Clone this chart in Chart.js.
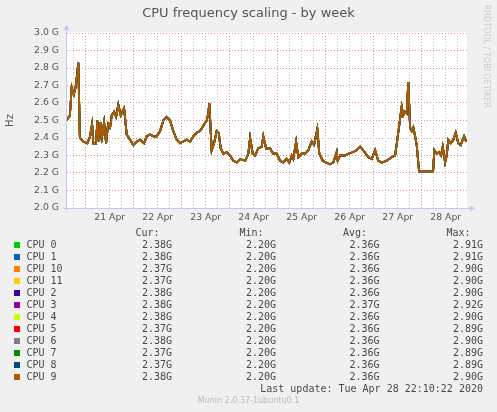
<!DOCTYPE html>
<html>
<head>
<meta charset="utf-8">
<script src="https://cdn.jsdelivr.net/npm/chart.js@4"></script>
<style>
  html, body { margin: 0; padding: 0; background: #f0f0f0; }
  #wrap { position: relative; width: 497px; height: 412px; background: #f0f0f0; overflow: hidden; }
  #myChart { position: absolute; left: 0; top: 0; }
  .t { position: absolute; white-space: pre; color: #555; }
  .title { font: 13px "DejaVu Sans"; left: 0; width: 497px; text-align: center; top: 5px; }
  .rrd { font: 8px "DejaVu Sans"; color: #ccc; left: 482px; top: 5px; writing-mode: vertical-rl; }
  .mono { font: 10px "DejaVu Sans Mono"; line-height: 12px; color: #484848; }
  .sw { position: absolute; width: 6px; height: 6px; }
  .munin { font: 8px "DejaVu Sans"; color: #bbb; left: 0; width: 497px; text-align: center; top: 396px; }
</style>
</head>
<body>
<div id="wrap">
  <canvas id="myChart" width="497" height="412"></canvas>
  <div class="t title">CPU frequency scaling - by week</div>
  <div class="t rrd">RRDTOOL / TOBI OETIKER</div>
  <div id="legend"></div>
  <div class="t munin">Munin 2.0.37-1ubuntu0.1</div>
</div>
<script>
// hours since 21 Apr 00:00
const hours = [-9.5, -7.9, -7.0, -5.9, -4.9, -3.7, -2.9, -1.2, 0.8, 2.2,
    3.2, 3.8, 5.2, 5.8, 6.7, 7.5, 8.2, 9.2, 10.2, 11.2,
    12.2, 13.0, 14.2, 15.2, 16.3, 17.5, 19.2, 20.5, 22.2, 23.8,
    25.5, 27.2, 29.2, 30.5, 32.2, 33.8, 35.5, 37.2, 38.8, 40.5,
    42.2, 43.8, 45.5, 47.2, 48.8, 50.5, 52.2, 53.8, 55.5, 57.2,
    58.8, 60.5, 61.3, 61.8, 63.0, 64.2, 65.5, 66.5, 67.5, 68.8,
    70.5, 72.2, 73.8, 75.5, 77.2, 79.7, 81.3, 82.2, 83.5, 84.7,
    86.3, 88.0, 88.8, 90.2, 92.2, 93.8, 95.5, 97.2, 98.8, 100.5,
    101.8, 103.0, 103.8, 105.2, 106.3, 108.0, 109.7, 111.3, 113.0, 114.2,
    115.8, 116.8, 118.5, 120.2, 122.2, 123.8, 125.5, 126.0, 127.2, 129.7,
    131.3, 133.8, 135.5, 137.2, 138.8, 141.3, 143.0, 144.7, 146.3, 148.0,
    150.5, 153.0, 154.7, 155.8, 157.2, 158.0, 158.8, 159.7, 160.5, 161.3,
    162.2, 163.0, 163.8, 164.7, 165.5, 166.7, 173.7, 174.3, 175.5, 176.7,
    177.7, 178.5, 179.7, 180.5, 181.3, 182.5, 183.8, 185.0, 186.3, 187.5,
    188.5, 189.2, 190.2];

// frequency in GHz
const freqGHz = [2.50, 2.53, 2.69, 2.65, 2.70, 2.83, 2.40, 2.38, 2.37, 2.41,
    2.48, 2.37, 2.37, 2.50, 2.38, 2.49, 2.41, 2.49, 2.37, 2.48,
    2.46, 2.53, 2.55, 2.52, 2.59, 2.53, 2.57, 2.42, 2.39, 2.36,
    2.38, 2.39, 2.37, 2.41, 2.42, 2.41, 2.41, 2.44, 2.50, 2.52,
    2.50, 2.44, 2.39, 2.37, 2.38, 2.39, 2.38, 2.41, 2.43, 2.44,
    2.47, 2.50, 2.54, 2.60, 2.33, 2.37, 2.44, 2.43, 2.34, 2.31,
    2.32, 2.30, 2.27, 2.26, 2.28, 2.27, 2.31, 2.40, 2.31, 2.30,
    2.34, 2.35, 2.41, 2.34, 2.34, 2.31, 2.31, 2.27, 2.26, 2.28,
    2.26, 2.30, 2.28, 2.38, 2.29, 2.31, 2.31, 2.33, 2.38, 2.36,
    2.45, 2.31, 2.27, 2.26, 2.25, 2.26, 2.32, 2.27, 2.30, 2.30,
    2.31, 2.32, 2.33, 2.35, 2.33, 2.29, 2.28, 2.33, 2.27, 2.26,
    2.27, 2.29, 2.30, 2.39, 2.51, 2.58, 2.53, 2.55, 2.54, 2.72,
    2.46, 2.44, 2.46, 2.41, 2.36, 2.21, 2.21, 2.33, 2.31, 2.32,
    2.30, 2.35, 2.26, 2.30, 2.39, 2.37, 2.39, 2.43, 2.37, 2.36,
    2.39, 2.41, 2.38];

const dayLabels = ['21 Apr', '22 Apr', '23 Apr', '24 Apr', '25 Apr', '26 Apr', '27 Apr', '28 Apr'];

const cpuNames = ['CPU 0', 'CPU 1', 'CPU 10', 'CPU 11', 'CPU 2', 'CPU 3', 'CPU 4', 'CPU 5', 'CPU 6', 'CPU 7', 'CPU 8', 'CPU 9'];
const cpuColors = ['#00cc00', '#0066b3', '#ff8000', '#ffcc00', '#330099', '#990099', '#ccff00', '#ff0000', '#808080', '#008f00', '#00487d', '#b35a00'];
const curVals = ['2.38G', '2.38G', '2.37G', '2.37G', '2.38G', '2.38G', '2.38G', '2.37G', '2.38G', '2.37G', '2.37G', '2.38G'];
const minVals = ['2.20G', '2.20G', '2.20G', '2.20G', '2.20G', '2.20G', '2.20G', '2.20G', '2.20G', '2.20G', '2.20G', '2.20G'];
const avgVals = ['2.36G', '2.36G', '2.36G', '2.36G', '2.36G', '2.37G', '2.36G', '2.36G', '2.36G', '2.36G', '2.36G', '2.36G'];
const maxVals = ['2.91G', '2.91G', '2.90G', '2.90G', '2.90G', '2.92G', '2.90G', '2.89G', '2.90G', '2.89G', '2.89G', '2.90G'];
const lastUpdate = 'Last update: Tue Apr 28 22:10:22 2020';

const points = hours.map((h, i) => ({ x: h, y: freqGHz[i] }));

// white plot area + blue axis arrows like rrdtool
const rrdFrame = {
    id: 'rrdFrame',
    beforeDraw(chart) {
        const { ctx, chartArea: a } = chart;
        ctx.save();
        ctx.fillStyle = '#ffffff';
        ctx.fillRect(a.left, a.top - 1, a.right - a.left, a.bottom - a.top + 1);
        ctx.restore();
    },
    afterDraw(chart) {
        const { ctx, chartArea: a } = chart;
        ctx.save();
        ctx.strokeStyle = '#c6c6f4';
        ctx.fillStyle = '#c6c6f4';
        ctx.lineWidth = 1;
        ctx.beginPath();
        ctx.moveTo(a.left - 3, a.bottom + 0.5);
        ctx.lineTo(a.right + 4, a.bottom + 0.5);
        ctx.moveTo(a.left - 0.5, a.bottom + 3);
        ctx.lineTo(a.left - 0.5, a.top - 4);
        ctx.stroke();
        ctx.beginPath();
        ctx.moveTo(a.right + 8, a.bottom + 0.5);
        ctx.lineTo(a.right + 3, a.bottom - 2.5);
        ctx.lineTo(a.right + 3, a.bottom + 3.5);
        ctx.closePath();
        ctx.moveTo(a.left - 0.5, a.top - 8);
        ctx.lineTo(a.left - 3.5, a.top - 3);
        ctx.lineTo(a.left + 2.5, a.top - 3);
        ctx.closePath();
        ctx.fill();
        ctx.restore();
    }
};

const majorGrid = '#f08c8c';
const minorGrid = '#c4c4c4';

const config = {
    type: 'line',
    data: {
        datasets: cpuNames.map((name, i) => ({
            label: name,
            data: points,
            borderColor: cpuColors[i],
            backgroundColor: cpuColors[i],
            borderWidth: 1.8,
            pointRadius: 0,
            tension: 0,
            order: cpuNames.length - 1 - i,
        }))
    },
    options: {
        responsive: false,
        devicePixelRatio: 1,
        animation: false,
        layout: {
            padding: { left: 0, top: 33, right: 30, bottom: 184 }
        },
        plugins: {
            legend: { display: false },
            tooltip: { enabled: false },
            title: { display: false }
        },
        scales: {
            x: {
                type: 'linear',
                min: -9.35,
                max: 190.65,
                afterFit: (scale) => { scale.height = 20; },
                border: { display: false, dash: [1, 2] },
                grid: {
                    drawTicks: false,
                    lineWidth: 1,
                    color: (c) => (c.tick && ((c.tick.value % 24) + 24) % 24 === 0) ? majorGrid : minorGrid,
                },
                ticks: {
                    stepSize: 6,
                    includeBounds: false,
                    autoSkip: false,
                    maxRotation: 0,
                    padding: 4,
                    color: '#555',
                    font: { family: 'DejaVu Sans', size: 9.3 },
                    callback: function (value) {
                        if (((value % 24) + 24) % 24 === 12) {
                            return dayLabels[Math.floor(value / 24)] || '';
                        }
                        return '';
                    }
                }
            },
            y: {
                type: 'linear',
                min: 2.0,
                max: 3.0,
                afterFit: (scale) => { scale.width = 67; },
                border: { display: false, dash: [1, 2] },
                grid: {
                    drawTicks: false,
                    lineWidth: 1,
                    color: majorGrid,
                },
                ticks: {
                    stepSize: 0.1,
                    padding: 8,
                    color: '#555',
                    font: { family: 'DejaVu Sans', size: 9.3 },
                    callback: function (value) {
                        return value.toFixed(1) + ' G';
                    }
                },
                title: {
                    display: true,
                    text: 'Hz',
                    color: '#555',
                    font: { family: 'DejaVu Sans', size: 10 },
                    padding: { top: 4, bottom: 0 }
                }
            }
        }
    },
    plugins: [rrdFrame]
};

window.myChart = new Chart(document.getElementById('myChart'), config);

// munin style legend table
function addText(text, cls, left, right, top) {
    const d = document.createElement('div');
    d.className = 't ' + cls;
    d.textContent = text;
    if (left !== null) d.style.left = left + 'px';
    if (right !== null) { d.style.right = (497 - right) + 'px'; d.style.textAlign = 'right'; }
    d.style.top = top + 'px';
    document.getElementById('legend').appendChild(d);
}

const headTop = 227;
addText('Cur:', 'mono', null, 159.5, headTop);
addText('Min:', 'mono', null, 263.5, headTop);
addText('Avg:', 'mono', null, 367, headTop);
addText('Max:', 'mono', null, 470.5, headTop);

cpuNames.forEach((name, i) => {
    const top = 238.5 + i * 12;
    const sw = document.createElement('div');
    sw.className = 'sw';
    sw.style.left = '14px';
    sw.style.top = (top + 3) + 'px';
    sw.style.background = cpuColors[i];
    document.getElementById('legend').appendChild(sw);
    addText(name, 'mono', 26.5, null, top);
    addText(curVals[i], 'mono', null, 172, top);
    addText(minVals[i], 'mono', null, 276, top);
    addText(avgVals[i], 'mono', null, 379.5, top);
    addText(maxVals[i], 'mono', null, 483, top);
});

addText(lastUpdate, 'mono', null, 483, 382.5);
</script>
</body>
</html>
